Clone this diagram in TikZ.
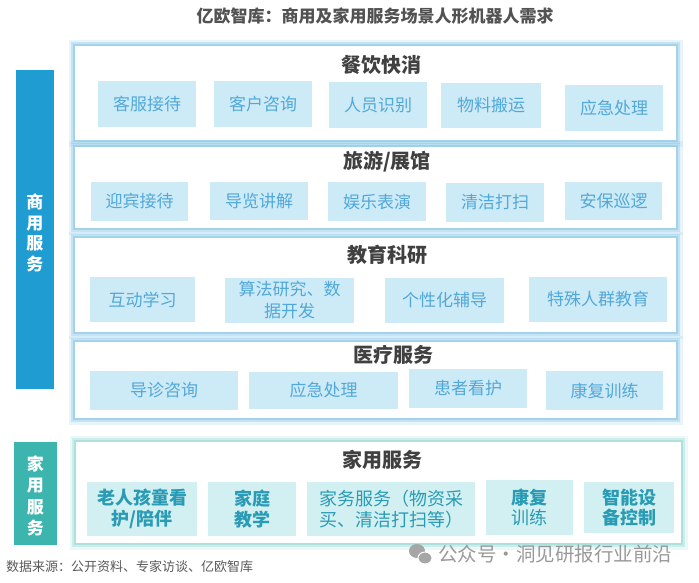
\documentclass[tikz,border=0pt]{standalone}
\usepackage{fontspec}
\setmainfont{Noto Sans CJK SC}
\definecolor{glowB}{HTML}{85C4E6}
\definecolor{glowT}{HTML}{92D8D2}
\definecolor{itemB}{HTML}{CDEAF7}
\definecolor{itemT}{HTML}{52A8D8}
\definecolor{itemH}{HTML}{D2F0F2}
\definecolor{itemHT}{HTML}{2A9BB5}
\definecolor{barB}{HTML}{1F9DD3}
\definecolor{barT}{HTML}{3BB5AE}
\definecolor{titleC}{HTML}{404040}
\begin{document}
\begin{tikzpicture}[x=1pt,y=-1pt,
  frameB/.style={fill=white, inner sep=0,
    preaction={draw=glowB, line width=13pt, opacity=0.18},
    preaction={draw=glowB, line width=8pt, opacity=0.35},
    preaction={draw=glowB, line width=3.5pt, opacity=0.55}},
  frameT/.style={fill=white, inner sep=0,
    preaction={draw=glowT, line width=13pt, opacity=0.18},
    preaction={draw=glowT, line width=8pt, opacity=0.35},
    preaction={draw=glowT, line width=3.5pt, opacity=0.55}},
  item/.style={fill=itemB, text=itemT, inner sep=0, align=center,
    font=\fontsize{17}{22}\selectfont},
  hitem/.style={fill=itemH, text=itemHT, inner sep=0, align=center,
    font=\fontsize{18}{20.5}\selectfont},
  sect/.style={text=titleC, inner sep=0, font=\fontsize{20}{23}\selectfont\bfseries},
  bar/.style={inner sep=0},
  bartext/.style={text=white, inner sep=0, align=center}
]
\useasboundingbox (0,0) rectangle (699,582);

% main title
\node[text=black!68, font=\fontsize{17}{20}\selectfont\bfseries] (title) at (375,16) {亿欧智库：商用及家用服务场景人形机器人需求};

% left bars
\node[bar, fill=barB, minimum width=38pt, minimum height=319pt] (barC) at (35,229.5) {};
\node[bartext, font=\fontsize{17}{20.5}\selectfont\bfseries] (barCt) at (35,233) {商\\用\\服\\务};
\node[bar, fill=barT, minimum width=43pt, minimum height=103pt] (barH) at (35.5,493.5) {};
\node[bartext, font=\fontsize{17}{21.5}\selectfont\bfseries] (barHt) at (35.5,496) {家\\用\\服\\务};

% frames
\node[frameB, minimum width=601pt, minimum height=94pt] (f1) at (375.5,93) {};
\node[frameB, minimum width=601pt, minimum height=81pt] (f2) at (375.5,187.5) {};
\node[frameB, minimum width=601pt, minimum height=94pt] (f3) at (375.5,285) {};
\node[frameB, minimum width=601pt, minimum height=76pt] (f4) at (375.5,380) {};
\node[frameT, minimum width=605pt, minimum height=101pt] (f5) at (378.5,492.5) {};

% section titles
\node[sect] (s1) at (381,65) {餐饮快消};
\node[sect] (s2) at (387,162) {旅游/展馆};
\node[sect] (s3) at (387,255) {教育科研};
\node[sect] (s4) at (393,355) {医疗服务};
\node[sect] (s5) at (382,460) {家用服务};

% row 1
\node[item, minimum width=98pt, minimum height=46pt] (a1) at (147,104) {客服接待};
\node[item, minimum width=98pt, minimum height=46pt] (a2) at (263,104) {客户咨询};
\node[item, minimum width=98pt, minimum height=46pt] (a3) at (378,105) {人员识别};
\node[item, minimum width=100pt, minimum height=45pt] (a4) at (491,105.5) {物料搬运};
\node[item, minimum width=98pt, minimum height=46pt] (a5) at (614,108) {应急处理};

% row 2
\node[item, minimum width=97pt, minimum height=39pt] (b1) at (139.5,201.5) {迎宾接待};
\node[item, minimum width=98pt, minimum height=38pt] (b2) at (259,201) {导览讲解};
\node[item, minimum width=98pt, minimum height=39pt] (b3) at (377,201.5) {娱乐表演};
\node[item, minimum width=98pt, minimum height=39pt] (b4) at (495,202.5) {清洁打扫};
\node[item, minimum width=97pt, minimum height=38pt] (b5) at (613.5,201) {安保巡逻};

% row 3
\node[item, minimum width=105pt, minimum height=45pt] (c1) at (142.5,299.5) {互动学习};
\node[item, minimum width=129pt, minimum height=45pt] (c2) at (289.5,300.5) {算法研究、数\\据开发};
\node[item, minimum width=119pt, minimum height=45pt] (c3) at (444.5,300.5) {个性化辅导};
\node[item, minimum width=138pt, minimum height=45pt] (c4) at (598,299.5) {特殊人群教育};

% row 4
\node[item, minimum width=148pt, minimum height=39pt] (d1) at (164,390.5) {导诊咨询};
\node[item, minimum width=149pt, minimum height=37pt] (d2) at (323.5,390.5) {应急处理};
\node[item, minimum width=118pt, minimum height=39pt] (d3) at (468,388.5) {患者看护};
\node[item, minimum width=117pt, minimum height=39pt] (d4) at (604.5,390.5) {康复训练};

% row 5
\node[hitem, minimum width=110pt, minimum height=54pt, font=\fontsize{18}{20.5}\selectfont\bfseries] (e1) at (142,509) {老人孩童看\\护/陪伴};
\node[hitem, minimum width=88pt, minimum height=54pt, font=\fontsize{18}{20.5}\selectfont\bfseries] (e2) at (252,509) {家庭\\教学};
\node[hitem, minimum width=168pt, minimum height=54pt] (e3) at (391,509) {家务服务（物资采\\买、清洁打扫等）};
\node[hitem, minimum width=87pt, minimum height=55pt] (e4) at (529.5,507.5) {{\bfseries 康复}\\训练};
\node[hitem, minimum width=90pt, minimum height=51pt, font=\fontsize{18}{20.5}\selectfont\bfseries] (e5) at (629,507.5) {智能设\\备控制};

% source
\node[anchor=west, text=black!65, inner sep=0, font=\fontsize{13}{15}\selectfont] (src) at (6,567) {数据来源：公开资料、专家访谈、亿欧智库};

% watermark
\fill[black!35] (417,551) ellipse [x radius=8, y radius=7];
\fill[black!35, draw=white, line width=1pt] (425,558) ellipse [x radius=7, y radius=6];
\node[anchor=west, text=black!40, inner sep=0, font=\fontsize{19.5}{22}\selectfont] (wm) at (438,554) {公众号·洞见研报行业前沿};
\end{tikzpicture}
\end{document}
